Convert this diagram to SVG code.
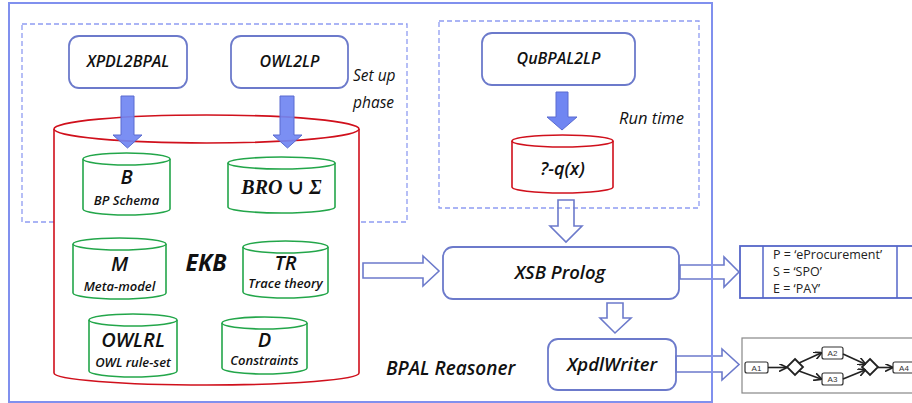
<svg xmlns="http://www.w3.org/2000/svg" width="912" height="403" viewBox="0 0 912 403">
<defs>
<style>
.frame{fill:none;stroke:#8090ee;stroke-width:2}
.dash{fill:none;stroke:#8f9cf2;stroke-width:1.3;stroke-dasharray:5 3}
.box{fill:#fff;stroke:#6c7acb;stroke-width:1.8}
.red{fill:#fff;stroke:#d0101c;stroke-width:1.6}
.grn{fill:#fff;stroke:#23a64a;stroke-width:1.6}
.fa{fill:#7086f2;stroke:#5a6bd0;stroke-width:1}
.ha{fill:none;stroke:#6c7acb;stroke-width:1.6}
.t{font-family:"Open Sans","Liberation Sans",sans-serif;font-style:italic;font-weight:600;fill:#111;text-anchor:middle}
.sm{font-family:"Open Sans","Liberation Sans",sans-serif;font-style:italic;font-weight:600;fill:#111;text-anchor:middle;font-size:13px}
.lbl{font-family:"Open Sans","Liberation Sans",sans-serif;font-style:italic;font-weight:400;fill:#111;font-size:15.5px}
.tab{font-family:"Open Sans","Liberation Sans",sans-serif;font-size:12.5px;fill:#222}
.bp{fill:#fff;stroke:#333;stroke-width:1.2}
.bpt{font-family:"Liberation Sans",sans-serif;font-size:8px;fill:#333;text-anchor:middle}
.bpl{fill:none;stroke:#222;stroke-width:1.6}
</style>
<marker id="ah" viewBox="0 0 8 8" refX="7" refY="4" markerWidth="5" markerHeight="5" orient="auto"><path d="M0,0 L8,4 L0,8" fill="none" stroke="#222" stroke-width="1.6"/></marker>
</defs>
<rect width="912" height="403" fill="#fff"/>

<g id="bpal-reasoner">
<text x="386" y="375" class="t" style="text-anchor:start;font-size:19px">BPAL Reasoner</text>
</g>
<g id="setup-phase">
<rect x="22" y="24" width="385" height="198" class="dash"/>
<text x="353" y="81" class="lbl">Set up</text>
<text x="353" y="108" class="lbl">phase</text>
</g>
<g id="run-time">
<rect x="439" y="21" width="260" height="187" class="dash"/>
<text x="619" y="124" class="lbl" style="font-size:16.5px">Run time</text>
</g>

<g id="ekb">
<path d="M54,129 L54,373 A152.5,12 0 0 0 359,373 L359,129" class="red"/>
<ellipse cx="206.5" cy="129" rx="152.5" ry="14" class="red"/>
<text x="206" y="271" class="t" style="font-size:23px;font-weight:700">EKB</text>
</g>

<g id="xpdl2bpal">
<rect x="69" y="36" width="118" height="52" rx="10" class="box"/>
<text x="128" y="67" class="t" style="font-size:16px">XPDL2BPAL</text>
</g>
<g id="owl2lp">
<rect x="231" y="36" width="117" height="52" rx="10" class="box"/>
<text x="289.5" y="67" class="t" style="font-size:16px">OWL2LP</text>
</g>

<g id="b-schema">
<path d="M83,159 L83,209 A43.5,6 0 0 0 170,209 L170,159" class="grn"/>
<ellipse cx="126.5" cy="159" rx="43.5" ry="6" class="grn"/>
<text x="126.5" y="184" class="t" style="font-size:20px">B</text>
<text x="126.5" y="205" class="sm">BP Schema</text>
</g>
<g id="bro">
<path d="M228,163 L228,207 A53.5,6 0 0 0 335,207 L335,163" class="grn"/>
<ellipse cx="281.5" cy="163" rx="53.5" ry="6" class="grn"/>
<text x="281.5" y="194" style="font-family:'Liberation Serif','DejaVu Serif',serif;font-style:italic;font-weight:700;font-size:20px;text-anchor:middle;fill:#111">BRO ∪ Σ</text>
</g>
<g id="meta-model">
<path d="M73,244 L73,293 A46.5,6 0 0 0 166,293 L166,244" class="grn"/>
<ellipse cx="119.5" cy="244" rx="46.5" ry="6" class="grn"/>
<text x="119.5" y="271" class="t" style="font-size:20px">M</text>
<text x="119.5" y="291" class="sm">Meta-model</text>
</g>
<g id="trace-theory">
<path d="M243,247 L243,292 A42.5,6 0 0 0 328,292 L328,247" class="grn"/>
<ellipse cx="285.5" cy="247" rx="42.5" ry="6" class="grn"/>
<text x="285.5" y="270" class="t" style="font-size:20px">TR</text>
<text x="285.5" y="288" class="sm">Trace theory</text>
</g>
<g id="owlrl">
<path d="M89,320 L89,371 A44,6 0 0 0 177,371 L177,320" class="grn"/>
<ellipse cx="133" cy="320" rx="44" ry="6" class="grn"/>
<text x="133" y="347" class="t" style="font-size:20px">OWLRL</text>
<text x="133" y="367" class="sm">OWL rule-set</text>
</g>
<g id="constraints">
<path d="M222,323 L222,368 A42.5,6 0 0 0 307,368 L307,323" class="grn"/>
<ellipse cx="264.5" cy="323" rx="42.5" ry="6" class="grn"/>
<text x="264.5" y="347" class="t" style="font-size:20px">D</text>
<text x="264.5" y="365" class="sm">Constraints</text>
</g>

<g id="qubpal2lp">
<rect x="482" y="33" width="153" height="52" rx="10" class="box"/>
<text x="558.5" y="64" class="t" style="font-size:16px">QuBPAL2LP</text>
</g>
<g id="query">
<path d="M512,141 L512,187 A50.5,6 0 0 0 613,187 L613,141" class="red"/>
<ellipse cx="562.5" cy="141" rx="50.5" ry="6" class="red"/>
<text x="562.5" y="175" class="t" style="font-size:18px">?-q(x)</text>
</g>

<g id="xsb-prolog">
<rect x="443" y="247" width="236" height="52" rx="10" class="box"/>
<text x="560" y="279" class="t" style="font-size:18.5px">XSB Prolog</text>
</g>
<g id="xpdlwriter">
<rect x="548" y="339" width="128" height="51" rx="10" class="box"/>
<text x="612" y="371" class="t" style="font-size:18.5px">XpdlWriter</text>
</g>

<g id="bindings">
<rect x="740" y="246" width="180" height="52" fill="#fff" stroke="#5566c8" stroke-width="1.8"/>
<line x1="763" y1="246" x2="763" y2="298" stroke="#5566c8" stroke-width="1.5"/>
<line x1="897" y1="246" x2="897" y2="298" stroke="#5566c8" stroke-width="1.5"/>
<text x="773" y="259" class="tab">P = ‘eProcurement’</text>
<text x="773" y="276" class="tab">S = ‘SPO’</text>
<text x="773" y="293" class="tab">E = ‘PAY’</text>
</g>

<g id="process-model">
<rect x="742" y="338" width="180" height="55" fill="#fff" stroke="#888" stroke-width="1.2"/>
<rect x="745" y="362" width="23" height="11" rx="2" class="bp"/>
<text x="756.5" y="370.5" class="bpt">A1</text>
<path d="M795,359 L803,367 L795,375 L787,367 Z" fill="#fff" stroke="#222" stroke-width="1.8"/>
<rect x="822" y="347" width="21" height="12" rx="2" class="bp"/>
<text x="832.5" y="356" class="bpt">A2</text>
<rect x="822" y="373" width="21" height="12" rx="2" class="bp"/>
<text x="832.5" y="382" class="bpt">A3</text>
<path d="M870,359 L878,367 L870,375 L862,367 Z" fill="#fff" stroke="#222" stroke-width="1.8"/>
<rect x="893" y="362" width="24" height="11" rx="2" class="bp"/>
<text x="904" y="370.5" class="bpt">A4</text>
<line x1="768" y1="367.5" x2="786" y2="367.5" class="bpl" marker-end="url(#ah)"/>
<line x1="799" y1="363" x2="821" y2="353" class="bpl" marker-end="url(#ah)"/>
<line x1="799" y1="371" x2="821" y2="379" class="bpl" marker-end="url(#ah)"/>
<line x1="843" y1="354" x2="865" y2="364" class="bpl" marker-end="url(#ah)"/>
<line x1="843" y1="379" x2="865" y2="370" class="bpl" marker-end="url(#ah)"/>
<line x1="878" y1="367.5" x2="892" y2="367.5" class="bpl" marker-end="url(#ah)"/>
</g>

<g id="connectors">
<path d="M121,96 L134,96 L134,135 L142,135 L127.5,148 L113,135 L121,135 Z" class="fa" fill-opacity="0.92"/>
<path d="M280,96 L294,96 L294,135 L302,135 L287.5,148 L273,135 L280,135 Z" class="fa" fill-opacity="0.92"/>
<path d="M556,92 L568,92 L568,117 L577,117 L562,130 L547,117 L556,117 Z" class="fa"/>
<path d="M558,200 L574,200 L574,226 L582,226 L566,242 L550,226 L558,226 Z" class="ha"/>
<path d="M363,263 L423,263 L423,256 L439,271 L423,286 L423,278 L363,278 Z" class="ha"/>
<path d="M607,303 L623,303 L623,318 L631,318 L615,333 L600,318 L607,318 Z" class="ha"/>
<path d="M680,265 L724,265 L724,257 L739,272 L724,287 L724,279 L680,279 Z" class="ha"/>
<path d="M676,356 L722,356 L722,349 L739,364.5 L722,380 L722,372 L676,372 Z" class="ha"/>
</g>

<rect x="9" y="3" width="703" height="399" class="frame"/>
</svg>
